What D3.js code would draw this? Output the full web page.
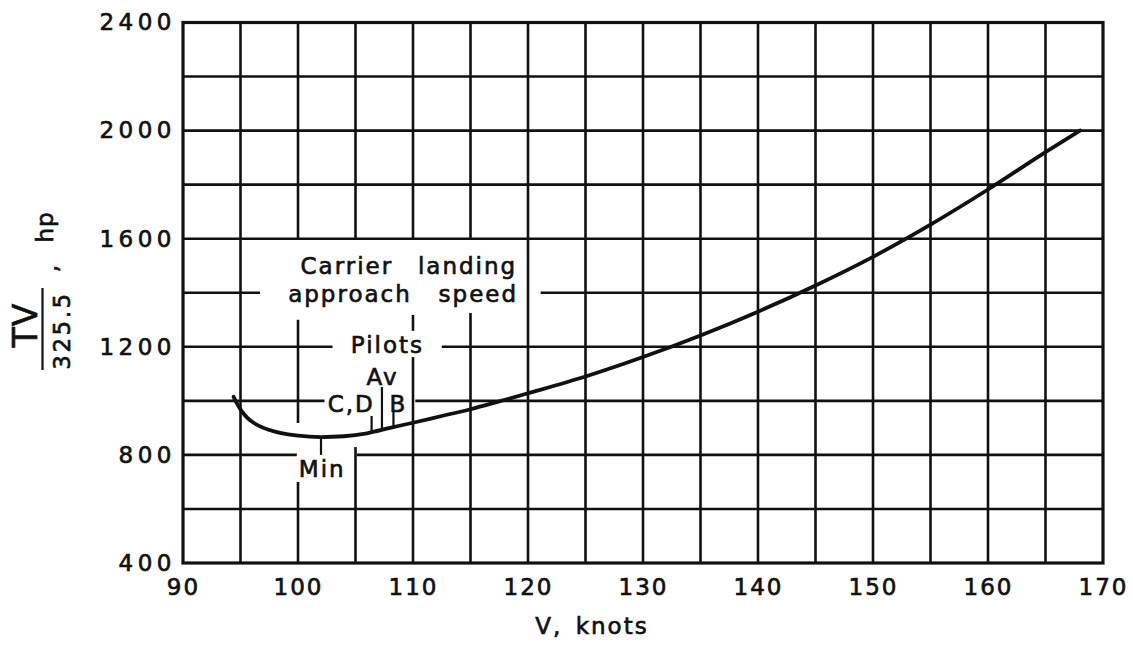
<!DOCTYPE html>
<html>
<head>
<meta charset="utf-8">
<script src="https://cdn.jsdelivr.net/npm/d3@7"></script>
<style>
  html, body { margin: 0; padding: 0; background: #fff; }
  svg text { font-family: "DejaVu Sans", sans-serif; fill: #111; stroke: #111; stroke-width: 0.65px; }
</style>
</head>
<body>
<svg id="chart" width="1133" height="645"></svg>
<script>
// Axis ticks
const speedTicks = [90, 100, 110, 120, 130, 140, 150, 160, 170];
const powerTicks = [400, 800, 1200, 1600, 2000, 2400];

// Power-required curve, TV/325.5 (hp) against speed (knots)
const curveSpeed = [94.4, 94.7, 95.1, 95.6, 96.2, 97, 98, 99, 100, 102, 104, 106, 108, 110,
                    112.5, 115, 117.5, 120, 125, 130, 135, 140, 145, 150, 155, 160, 165, 168];
const curvePower = [1015, 990, 962, 937, 917, 900, 886, 877, 871, 866, 869, 880, 900, 919,
                    944, 969, 998, 1028, 1090, 1162, 1242, 1330, 1427, 1533, 1652, 1782, 1920, 2000];

// Approach-speed markers: speed and the far end of each marker stroke
const markerNames  = ["Min", "C,D", "Av", "B"];
const markerSpeeds = [102, 106.4, 107.3, 108.3];
const markerEnds   = [800, 944, 1051, 959];

const svg = d3.select("#chart");
const x = d3.scaleLinear().domain([90, 170]).range([183, 1103]);
const y = d3.scaleLinear().domain([400, 2400]).range([563, 22.5]);

// Stretches of grid left open around the annotation text (data units)
const vBreaks = {
  100: [[1300, 1600], [700, 918]],
  105: [[829, 1600]],
  110: [[1318, 1600], [1162, 1259]],
  115: [[1325, 1600]]
};
const hBreaks = {
  1400: [[96.7, 121.1]],
  1200: [[103.0, 112.5]],
  1000: [[102.3, 110.2]],
  800:  [[99.9, 105.1]]
};

function openSegments(lo, hi, breaks) {
  let segs = [[lo, hi]];
  (breaks || []).forEach(([a, b]) => {
    const next = [];
    segs.forEach(([s, e]) => {
      if (b <= s || a >= e) { next.push([s, e]); return; }
      if (a > s) next.push([s, a]);
      if (b < e) next.push([b, e]);
    });
    segs = next;
  });
  return segs;
}

const grid = svg.append("g").attr("stroke", "#111").attr("stroke-width", 2.6);
d3.range(95, 170, 5).forEach(v => {
  openSegments(400, 2400, vBreaks[v]).forEach(([a, b]) => {
    grid.append("line").attr("x1", x(v)).attr("x2", x(v)).attr("y1", y(a)).attr("y2", y(b));
  });
});
d3.range(600, 2400, 200).forEach(p => {
  openSegments(90, 170, hBreaks[p]).forEach(([a, b]) => {
    grid.append("line").attr("y1", y(p)).attr("y2", y(p)).attr("x1", x(a)).attr("x2", x(b));
  });
});

// Frame
svg.append("rect")
  .attr("x", x(90)).attr("y", y(2400))
  .attr("width", x(170) - x(90)).attr("height", y(400) - y(2400))
  .attr("fill", "none").attr("stroke", "#111").attr("stroke-width", 3.2);

// Axes (labels only)
const xAxis = svg.append("g").attr("transform", `translate(0,${y(400)})`)
  .call(d3.axisBottom(x).tickValues(speedTicks).tickSize(0).tickPadding(16).tickFormat(d3.format("d")));
const yAxis = svg.append("g").attr("transform", `translate(${x(90)},0)`)
  .call(d3.axisLeft(y).tickValues(powerTicks).tickSize(0).tickPadding(7).tickFormat(d3.format("d")));
[xAxis, yAxis].forEach(g => {
  g.select(".domain").remove();
  g.selectAll("text").attr("font-size", 23).attr("fill", "#111")
    .attr("font-family", "DejaVu Sans");
});
xAxis.selectAll("text").attr("letter-spacing", 2);
yAxis.selectAll("text").attr("letter-spacing", 4.5);

// Curve
const pts = curveSpeed.map((s, i) => [s, curvePower[i]]);
svg.append("path")
  .datum(pts)
  .attr("fill", "none").attr("stroke", "#111").attr("stroke-width", 3.8)
  .attr("stroke-linecap", "round")
  .attr("d", d3.line().x(d => x(d[0])).y(d => y(d[1])).curve(d3.curveMonotoneX));

// Marker strokes from the curve
function curveAt(s) {
  const i = Math.max(1, d3.bisectLeft(curveSpeed, s));
  const t = (s - curveSpeed[i - 1]) / (curveSpeed[i] - curveSpeed[i - 1]);
  return curvePower[i - 1] + t * (curvePower[i] - curvePower[i - 1]);
}
svg.append("g").attr("stroke", "#111").attr("stroke-width", 2.2)
  .selectAll("line").data(markerSpeeds).join("line")
  .attr("x1", d => x(d)).attr("x2", d => x(d))
  .attr("y1", d => y(curveAt(d)))
  .attr("y2", (d, i) => y(markerEnds[i]));

// Annotation text: [text, centre speed, baseline power]
const notes = [
  ["Carrier", 104.25, 1471], ["landing", 114.74, 1471],
  ["approach", 104.52, 1367], ["speed", 115.68, 1367],
  ["Pilots", 107.78, 1176],
  ["Av", 107.35, 1059],
  [markerNames[1], 104.63, 960],
  [markerNames[3], 108.72, 960],
  [markerNames[0], 102.11, 719]
];
svg.append("g").selectAll("text").data(notes).join("text")
  .attr("x", d => x(d[1])).attr("y", d => y(d[2]))
  .attr("text-anchor", "middle").attr("font-size", 23).attr("letter-spacing", 2)
  .text(d => d[0]);

// X title
svg.append("text")
  .attr("x", 592).attr("y", 634).attr("text-anchor", "middle")
  .attr("font-size", 23).attr("letter-spacing", 2).attr("word-spacing", 4)
  .text("V, knots");

// Y title as a fraction, rotated
const yt = svg.append("g").attr("transform", "rotate(-90)");
yt.append("text").attr("x", -325).attr("y", 37).attr("text-anchor", "middle")
  .attr("font-size", 33).attr("letter-spacing", 1).text("TV");
yt.append("line").attr("x1", -370).attr("x2", -288).attr("y1", 42.5).attr("y2", 42.5)
  .attr("stroke", "#111").attr("stroke-width", 2.2);
yt.append("text").attr("x", -330.5).attr("y", 70).attr("text-anchor", "middle")
  .attr("font-size", 23).attr("letter-spacing", 2.5).text("325.5");
yt.append("text").attr("x", -268.5).attr("y", 57).attr("text-anchor", "middle")
  .attr("font-size", 23).text(",");
yt.append("text").attr("x", -227).attr("y", 53).attr("text-anchor", "middle")
  .attr("font-size", 23).attr("letter-spacing", 1).text("hp");
</script>
</body>
</html>
